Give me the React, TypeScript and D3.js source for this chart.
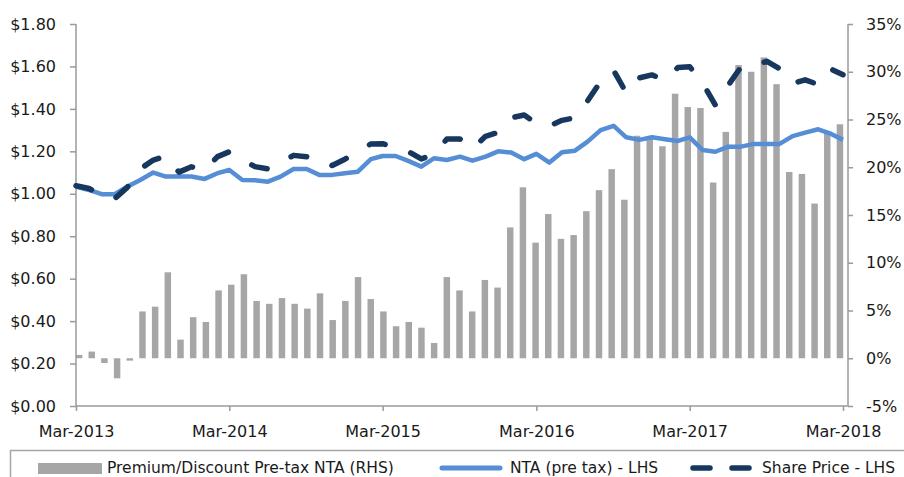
import React, { useEffect, useRef } from "react";
import * as d3 from "d3";

// monthly, Mar-2013 .. Mar-2018
const startMonth = new Date(2013, 2, 1);
const endMonth = new Date(2018, 2, 1);
const months = d3.timeMonth.range(startMonth, d3.timeMonth.offset(endMonth, 1));

const xTickLabels = ["Mar-2013", "Mar-2014", "Mar-2015", "Mar-2016", "Mar-2017", "Mar-2018"];
const leftTicks = [0, 0.2, 0.4, 0.6, 0.8, 1.0, 1.2, 1.4, 1.6, 1.8];
const rightTicks = [-0.05, 0, 0.05, 0.1, 0.15, 0.2, 0.25, 0.3, 0.35];

// premium / discount to pre-tax NTA, %
const premium = [
  0.35, 0.7, -0.5, -2.1, -0.25, 4.9, 5.4, 9.0, 1.95, 4.3, 3.8, 7.1, 7.7, 8.8, 6.0, 5.7,
  6.3, 5.7, 5.2, 6.8, 4.0, 6.0, 8.5, 6.2, 4.9, 3.35, 3.8, 3.2, 1.6, 8.5, 7.1, 4.9,
  8.2, 7.4, 13.7, 17.9, 12.1, 15.1, 12.5, 12.9, 15.4, 17.6, 19.8, 16.6, 23.3, 23.2, 22.2, 27.7,
  26.3, 26.2, 18.4, 23.7, 30.7, 30.0, 31.5, 28.7, 19.5, 19.3, 16.2, 23.8, 24.5,
];

// NTA (pre tax), $
const nta = [
  1.034, 1.018, 0.998, 0.998, 1.033, 1.065, 1.1, 1.081, 1.081, 1.081, 1.07, 1.097, 1.112, 1.065, 1.064, 1.057,
  1.081, 1.117, 1.117, 1.089, 1.089, 1.097, 1.104, 1.163, 1.178, 1.178, 1.155, 1.128, 1.167, 1.159, 1.175, 1.156,
  1.175, 1.2, 1.194, 1.163, 1.188, 1.147, 1.196, 1.203, 1.246, 1.3, 1.32, 1.266, 1.254, 1.266, 1.257, 1.249,
  1.266, 1.206, 1.198, 1.222, 1.222, 1.235, 1.235, 1.235, 1.272, 1.288, 1.304, 1.282, 1.254,
];

// share price, $
const sharePrice = [
  1.038, 1.025, 0.993, 0.977, 1.03, 1.117, 1.159, 1.178, 1.102, 1.127, 1.111, 1.175, 1.198, 1.159, 1.128, 1.117,
  1.149, 1.181, 1.175, 1.163, 1.133, 1.163, 1.198, 1.235, 1.236, 1.217, 1.199, 1.164, 1.186, 1.258, 1.258, 1.213,
  1.271, 1.289, 1.358, 1.371, 1.332, 1.32, 1.346, 1.358, 1.438, 1.529, 1.581, 1.476, 1.546, 1.56, 1.536, 1.595,
  1.599, 1.522, 1.418, 1.512, 1.597, 1.606, 1.624, 1.589, 1.52, 1.537, 1.515, 1.587, 1.561,
];

const W = 904;
const H = 477;
const FONT = "DejaVu Sans, sans-serif";

export default function App() {
  const ref = useRef<SVGSVGElement>(null);

  useEffect(() => {
    const svg = d3.select(ref.current);
    svg.selectAll("*").remove();

    const left = 76, right = 848, top = 24, bottom = 406;
    const lastX = 843;

    const x = d3.scaleTime().domain([startMonth, endMonth]).range([left, lastX]);
    const band = d3
      .scaleBand<number>()
      .domain(d3.range(months.length))
      .range([left - (lastX - left) / 120, lastX + (lastX - left) / 120])
      .padding(0.49);
    const yL = d3.scaleLinear().domain([0, 1.8]).range([bottom, top]);
    const yR = d3.scaleLinear().domain([-0.05, 0.35]).range([bottom, top]);

    svg
      .append("defs")
      .append("clipPath")
      .attr("id", "plotclip")
      .append("rect")
      .attr("x", left)
      .attr("y", 0)
      .attr("width", right - left)
      .attr("height", bottom);

    // bars
    svg
      .append("g")
      .attr("clip-path", "url(#plotclip)")
      .selectAll("rect")
      .data(premium)
      .enter()
      .append("rect")
      .attr("x", (d, i) => band(i)!)
      .attr("width", band.bandwidth())
      .attr("y", (d) => Math.min(yR(d / 100), yR(0)))
      .attr("height", (d) => Math.abs(yR(d / 100) - yR(0)))
      .attr("fill", "#A6A6A6");

    // axis lines
    const axisColor = "#9A9A9A";
    const axes = svg.append("g").attr("stroke", axisColor).attr("stroke-width", 1.5);
    axes.append("line").attr("x1", left).attr("x2", left).attr("y1", top).attr("y2", bottom);
    axes.append("line").attr("x1", right).attr("x2", right).attr("y1", top).attr("y2", bottom);
    axes.append("line").attr("x1", left).attr("x2", right).attr("y1", bottom).attr("y2", bottom);

    const styleAxis = (g: any) => {
      g.select(".domain").remove();
      g.selectAll(".tick line").attr("stroke", axisColor).attr("stroke-width", 1.5);
      g.selectAll(".tick text").attr("fill", "#1a1a1a").style("font-family", FONT).style("font-size", "16px");
    };

    svg
      .append("g")
      .attr("transform", `translate(${left},0)`)
      .call(
        d3.axisLeft(yL).tickValues(leftTicks).tickSize(6).tickPadding(14).tickFormat((d: any) => "$" + d.toFixed(2))
      )
      .call(styleAxis);

    svg
      .append("g")
      .attr("transform", `translate(${right},0)`)
      .call(
        d3.axisRight(yR).tickValues(rightTicks).tickSize(5).tickPadding(13).tickFormat((d: any) => Math.round(d * 100) + "%")
      )
      .call(styleAxis);

    const tickDates = xTickLabels.map((_, k) => d3.timeYear.offset(startMonth, k));
    svg
      .append("g")
      .attr("transform", `translate(0,${bottom})`)
      .call(
        d3.axisBottom(x).tickValues(tickDates).tickSize(5).tickPadding(15).tickFormat((d: any, k: number) => xTickLabels[k])
      )
      .call(styleAxis);

    // NTA line
    const ntaLine = d3
      .line<number>()
      .x((d, i) => x(months[i]))
      .y((d) => yL(d));
    svg
      .append("path")
      .datum(nta)
      .attr("d", ntaLine)
      .attr("fill", "none")
      .attr("stroke", "#558ED5")
      .attr("stroke-width", 4.5)
      .attr("stroke-linejoin", "round");

    // share price dashed line
    svg
      .append("path")
      .datum(sharePrice)
      .attr("d", ntaLine)
      .attr("fill", "none")
      .attr("stroke", "#17375E")
      .attr("stroke-width", 5.5)
      .attr("stroke-dasharray", "16,27")
      .attr("stroke-linecap", "round")
      .attr("stroke-linejoin", "round");

    // legend
    const lg = svg.append("g");
    lg.append("rect")
      .attr("x", 10.5)
      .attr("y", 450.5)
      .attr("width", 920)
      .attr("height", 60)
      .attr("fill", "none")
      .attr("stroke", "#A6A6A6")
      .attr("stroke-width", 1.5);
    const ly = 468;
    lg.append("rect").attr("x", 38).attr("y", 463).attr("width", 64).attr("height", 11).attr("fill", "#A6A6A6");
    lg.append("line")
      .attr("x1", 442).attr("x2", 500).attr("y1", ly).attr("y2", ly)
      .attr("stroke", "#558ED5").attr("stroke-width", 5).attr("stroke-linecap", "round");
    lg.append("line")
      .attr("x1", 693).attr("x2", 753).attr("y1", ly).attr("y2", ly)
      .attr("stroke", "#17375E").attr("stroke-width", 5.5)
      .attr("stroke-dasharray", "17,22").attr("stroke-linecap", "round");

    const legendText = [
      { x: 107, t: "Premium/Discount Pre-tax NTA (RHS)" },
      { x: 510, t: "NTA (pre tax) - LHS" },
      { x: 762, t: "Share Price - LHS" },
    ];
    lg.selectAll("text.lt")
      .data(legendText)
      .enter()
      .append("text")
      .attr("class", "lt")
      .attr("x", (d) => d.x)
      .attr("y", ly)
      .attr("dy", "0.35em")
      .attr("fill", "#1a1a1a")
      .style("font-family", FONT)
      .style("font-size", "15.5px")
      .text((d) => d.t);
  }, []);

  return (
    <svg
      ref={ref}
      width={W}
      height={H}
      style={{ position: "absolute", left: 0, top: 0, background: "#fff" }}
    />
  );
}
